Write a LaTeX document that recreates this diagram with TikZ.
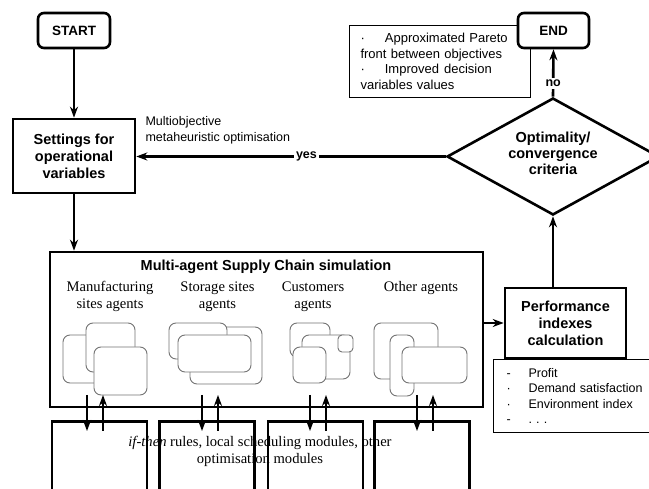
\documentclass[tikz,border=0pt]{standalone}
\usepackage{fontspec}
\setmainfont{Liberation Serif}
\setsansfont{Liberation Sans}
\usetikzlibrary{shapes.geometric,arrows.meta}

\tikzset{
  thickline/.style={line width=2.6pt},
  flow/.style={thickline,-{Stealth[length=11pt,width=8pt]}},
  boldtext/.style={font=\sffamily\bfseries\fontsize{14.5}{17}\selectfont, align=center},
  termbox/.style={draw, thickline, rounded corners=6pt, fill=white,
    minimum width=72pt, minimum height=35pt,
    font=\sffamily\bfseries\fontsize{13.5}{15}\selectfont},
  procbox/.style={draw, thickline, fill=white, boldtext},
  decisionbox/.style={diamond, draw, thickline, fill=white, inner sep=0pt,
    minimum width=212pt, minimum height=117pt},
  notebox/.style={draw, line width=1.1pt, fill=white, align=left},
  agentbox/.style={draw=black!55, line width=0.9pt, fill=white, rounded corners=7pt},
  agentlabel/.style={font=\fontsize{14.6}{17}\selectfont, align=center},
  rulesbox/.style={draw, thickline, minimum width=95pt, minimum height=90pt, anchor=north},
  flowlabel/.style={fill=white, inner sep=2pt, font=\sffamily\bfseries\fontsize{12.5}{14}\selectfont},
}

\begin{document}
\begin{tikzpicture}[x=1pt,y=-1pt]
  \useasboundingbox (0,0) rectangle (649,489);
  \clip (0,0) rectangle (649,489);

  % top of the flow
  \node[termbox] (start) at (74,30.5) {START};
  \node[procbox, minimum width=122pt, minimum height=74pt] (settings) at (74,156)
    {Settings for\\operational\\variables};
  \node[anchor=west, align=left, font=\sffamily\fontsize{12.5}{16}\selectfont] (method) at (142,130)
    {Multiobjective\\metaheuristic optimisation};

  \node[notebox, anchor=north west, minimum width=181pt, minimum height=72pt,
        text width=159pt, inner xsep=11pt, font=\sffamily\fontsize{13}{15.5}\selectfont] (result) at (349,25)
    {·\hspace{20pt}Approximated Pareto\\front between objectives\\·\hspace{20pt}Improved\hspace{5pt}decision\\variables values};
  \node[termbox, minimum width=71pt] (end) at (553.5,30.5) {END};
  \node[decisionbox] (crit) at (553,156.5) {};
  \node[boldtext, font=\sffamily\bfseries\fontsize{14.5}{16}\selectfont] (crittext) at (553,153)
    {Optimality/\\convergence\\criteria};

  % simulation block
  \node[draw, thickline, minimum width=433pt, minimum height=155pt] (sim) at (266.5,329.5) {};
  \node[boldtext] (simtitle) at (266,267) {Multi-agent Supply Chain simulation};
  \node[agentlabel] (manuf) at (110,296.5) {Manufacturing\\sites agents};
  \node[agentlabel] (storage) at (217.5,296.5) {Storage sites\\agents};
  \node[agentlabel] (customers) at (313,296.5) {Customers\\agents};
  \node[agentlabel] (other) at (421,288) {Other agents};

  % agent icons
  \draw[agentbox] (63,335) rectangle (125,383);
  \draw[agentbox] (86,323) rectangle (135,372);
  \draw[agentbox] (94,347) rectangle (147,395);

  \draw[agentbox] (190,327) rectangle (262,384);
  \draw[agentbox] (169,323) rectangle (227,359);
  \draw[agentbox] (178,335) rectangle (251,372);

  \draw[agentbox] (290,323) rectangle (330,357);
  \draw[agentbox] (302,335) rectangle (350,379);
  \draw[agentbox, rounded corners=4pt] (338,335) rectangle (353,352);
  \draw[agentbox] (293,347) rectangle (326,383);

  \draw[agentbox] (374,323) rectangle (438,379);
  \draw[agentbox] (390,335) rectangle (414,396);
  \draw[agentbox] (402,347) rectangle (467,383);

  % local rule modules
  \node[rulesbox] (rules1) at (99.5,420) {};
  \node[rulesbox] (rules2) at (207,420) {};
  \node[rulesbox] (rules3) at (315.5,420) {};
  \node[rulesbox] (rules4) at (422,420) {};
  \node[align=center, font=\fontsize{14.6}{17}\selectfont] (rulestext) at (260,451.5)
    {\textit{if-then} rules, local scheduling modules, other\\optimisation modules};

  \foreach \xd/\n in {87/1,202/2,310/3,417/4}{
    \coordinate (out\n) at (\xd,395);
    \coordinate (in\n) at (\xd,431);
    \draw[flow] (out\n) -- (in\n);
    \draw[flow] ([xshift=16pt]in\n) -- ([xshift=16pt]out\n);
  }

  % performance
  \node[notebox, anchor=north west, minimum width=180pt, minimum height=73pt,
        text width=154pt, inner xsep=13pt, font=\sffamily\fontsize{12.5}{15.5}\selectfont] (indexes) at (493,359)
    {\makebox[22pt][l]{-}Profit\\
     \makebox[22pt][l]{·}Demand satisfaction\\
     \makebox[22pt][l]{·}Environment index\\
     \makebox[22pt][l]{-}.\ .\ .};
  \node[procbox, minimum width=121pt, minimum height=70pt] (perf) at (565.5,323)
    {Performance\\indexes\\calculation};

  % connectors
  \draw[flow] (start) -- (settings);
  \draw[flow] (settings.south) -- (settings.south |- sim.north);
  \draw[flow] (sim.east |- perf.west) -- (perf.west);
  \draw[flow] (crit.south |- perf.north) -- (crit.south);
  \draw[flow] (crit.north) -- node[flowlabel, pos=0.28] {no} (end.south);
  \draw[flow] (crit.west) -- node[flowlabel, pos=0.45] {yes} (crit.west -| settings.east);
\end{tikzpicture}
\end{document}
